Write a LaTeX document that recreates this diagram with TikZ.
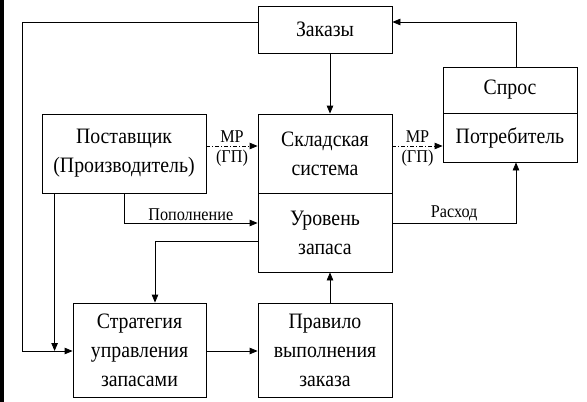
\documentclass[tikz,border=0pt]{standalone}
\usepackage{fontspec}
\setmainfont{Liberation Serif}[FakeStretch=0.9]
\usetikzlibrary{arrows.meta}
\tikzset{
  block/.style={draw, line width=0.8pt, align=center, inner sep=2pt,
    font=\fontsize{22}{29}\selectfont},
  link/.style={line width=0.8pt, -{Triangle[length=8pt,width=6.5pt]}},
  mplink/.style={link, dash pattern=on 4pt off 2pt on 1pt off 2pt},
  lbl/.style={font=\fontsize{18}{19}\selectfont, inner sep=2pt}
}
\begin{document}
\begin{tikzpicture}[x=1pt,y=-1pt]
  \useasboundingbox (0,0) rectangle (587,402);
  \fill[black] (0,0) rectangle (4,402);
  % blocks
  \node[block, minimum width=134pt, minimum height=47pt] (zakaz) at (325,29.5) {Заказы};
  \node[block, minimum width=164pt, minimum height=79pt] (post) at (124,153.5) {Поставщик\\(Производитель)};
  \node[block, minimum width=134pt, minimum height=79pt] (sklad) at (325,153.5) {Складская\\система};
  \node[block, minimum width=134pt, minimum height=79pt] (uroven) at (325,232.5) {Уровень\\запаса};
  \node[block, minimum width=134pt, minimum height=46pt] (spros) at (510,90) {Спрос};
  \node[block, minimum width=134pt, minimum height=49pt] (potreb) at (510,137.5) {Потребитель};
  \node[block, minimum width=133pt, minimum height=94pt] (strat) at (139.5,350) {Стратегия\\управления\\запасами};
  \node[block, minimum width=134pt, minimum height=94pt] (prav) at (325,350) {Правило\\выполнения\\заказа};
  \coordinate (lc) at (22,351);
  % connectors
  \draw[link] ([xshift=5pt]zakaz.south) -- ([xshift=5pt]sklad.north);
  \draw[link] ([xshift=6pt]spros.north) |- ([yshift=7.5pt]zakaz.east);
  \draw[link] ([yshift=7.5pt]zakaz.west) -| (lc) -- (lc -| strat.west);
  \draw[link] ([xshift=13pt]post.south west) -- ([xshift=13pt]post.south west |- lc);
  \draw[link] (post.south) |- node[lbl, above, pos=0.75] {Пополнение} ([yshift=9.5pt]uroven.west);
  \draw[link] ([yshift=9.5pt]uroven.east) -| node[lbl, above, pos=0.25] {Расход} ([xshift=6pt]potreb.south);
  \draw[link] ([yshift=-8.5pt]uroven.west) -| ([xshift=15.5pt]strat.north);
  \draw[link] (lc -| strat.east) -- (lc -| prav.west);
  \draw[link] ([xshift=5pt]prav.north) -- ([xshift=5pt]uroven.south);
  \draw[mplink] ([yshift=7.5pt]post.east) -- node[lbl, above=1pt] {МР} node[lbl, below=2pt] {(ГП)} ([yshift=7.5pt]sklad.west);
  \draw[mplink] ([yshift=7.5pt]sklad.east) -- node[lbl, above=1pt] {МР} node[lbl, below=2pt] {(ГП)} ([yshift=7.5pt]sklad.east -| potreb.west);
\end{tikzpicture}
\end{document}
